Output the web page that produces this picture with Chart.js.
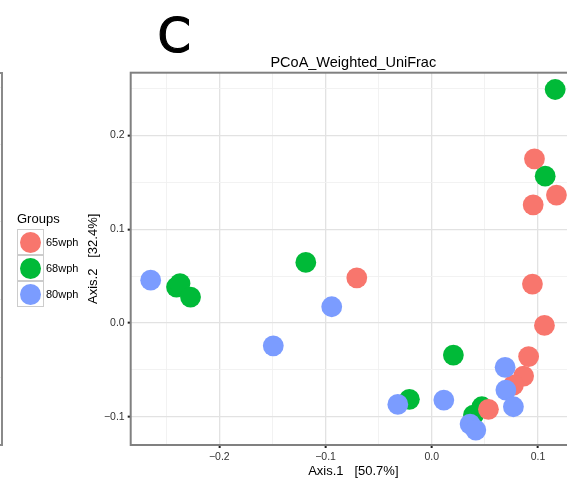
<!DOCTYPE html>
<html>
<head>
<meta charset="utf-8">
<script src="https://cdn.jsdelivr.net/npm/chart.js@4/dist/chart.umd.min.js"></script>
<style>
  html, body { margin: 0; padding: 0; background: #fff; }
  body {
    width: 567px; height: 483px; overflow: hidden; position: relative;
    font-family: 'Liberation Sans', Arial, sans-serif;
  }
  #chartBox { position: absolute; left: 0; top: 0; width: 600px; height: 483px; }
  /* right edge of the neighbouring panel B */
  #prevPanel {
    position: absolute; left: -22px; top: 72px; width: 21px; height: 370px;
    border: 2px solid #8a8a8a; background: #fff;
  }
  .prev-grid { position: absolute; left: 0; right: 0; height: 1px; background: #ebebeb; }
  #legend { position: absolute; left: 17px; top: 211px; color: #000; }
  #legend .legend-title { font-size: 13px; height: 18px; line-height: 16px; }
  .legend-row { display: flex; align-items: center; height: 26px; }
  .legend-key {
    width: 27px; height: 26px; box-sizing: border-box; border: 1.5px solid #cccccc;
    display: flex; align-items: center; justify-content: center; background: #fff;
  }
  .legend-dot { width: 21px; height: 21px; border-radius: 50%; }
  .legend-label { font-size: 11px; margin-left: 2px; }
</style>
</head>
<body>
<div id="prevPanel">
  <div class="prev-grid" style="top:13px"></div>
  <div class="prev-grid" style="top:70px"></div>
  <div class="prev-grid" style="top:147px"></div>
  <div class="prev-grid" style="top:225px"></div>
  <div class="prev-grid" style="top:303px"></div>
</div>
<div id="chartBox"><canvas id="pcoaChart" width="600" height="483"></canvas></div>
<div id="legend"></div>

<script>
const groups = ['65wph', '68wph', '80wph'];
const groupColors = ['#F8766D', '#00BA38', '#7B9CFF'];

// Axis.1 / Axis.2 coordinates per group
const axis1_65wph = [0.0966, 0.1173, 0.0954, -0.0706, 0.0947, 0.1060, 0.0911, 0.0864, 0.0768, 0.0533];
const axis2_65wph = [0.1752, 0.1365, 0.1261, 0.0483, 0.0416, -0.0025, -0.0357, -0.0565, -0.0661, -0.0920];

const axis1_68wph = [0.1161, 0.1067, -0.2403, -0.2370, -0.2271, -0.1186, 0.0203, -0.0211, 0.0471, 0.0392];
const axis2_68wph = [0.2491, 0.1567, 0.0384, 0.0421, 0.0277, 0.0647, -0.0341, -0.0813, -0.0892, -0.0981];

const axis1_80wph = [-0.2646, -0.0942, -0.1492, 0.0690, 0.0697, 0.0768, -0.0320, 0.0113, 0.0360, 0.0414];
const axis2_80wph = [0.0458, 0.0174, -0.0242, -0.0472, -0.0714, -0.0892, -0.0867, -0.0821, -0.1077, -0.1141];

const xTicks = [-0.25, -0.2, -0.15, -0.1, -0.05, 0, 0.05, 0.1];
const yTicks = [-0.1, -0.05, 0, 0.05, 0.1, 0.15, 0.2, 0.25];
const xMin = -0.2834, xMax = 0.1357;
const yMin = -0.1300, yMax = 0.2670;

const axis1 = [axis1_65wph, axis1_68wph, axis1_80wph];
const axis2 = [axis2_65wph, axis2_68wph, axis2_80wph];
const drawOrder = [1, 2, 0]; // 80wph on top, then 65wph, 68wph underneath

function isMajor(v) {
  return Math.abs(v * 10 - Math.round(v * 10)) < 1e-6;
}

function formatTick(v) {
  return (v < -1e-9 ? '\u2212' : '') + Math.abs(v).toFixed(1);
}

function gridColor(ctx) {
  if (!ctx.tick) return 'rgba(0,0,0,0)';
  return isMajor(ctx.tick.value) ? '#e2e2e2' : '#f1f1f1';
}

function gridWidth(ctx) {
  if (!ctx.tick) return 0;
  return isMajor(ctx.tick.value) ? 1.3 : 0.9;
}

function tickMarkColor(ctx) {
  if (!ctx.tick) return 'rgba(0,0,0,0)';
  return isMajor(ctx.tick.value) ? '#222' : 'rgba(0,0,0,0)';
}

function renderLegend() {
  const box = document.getElementById('legend');
  box.innerHTML = '<div class="legend-title">Groups</div>';
  groups.forEach((g, i) => {
    const row = document.createElement('div');
    row.className = 'legend-row';
    row.innerHTML = `
      <div class="legend-key"><div class="legend-dot" style="background:${groupColors[i]}"></div></div>
      <span class="legend-label">${g}</span>
    `;
    box.appendChild(row);
  });
}

const panelBorder = {
  id: 'panelBorder',
  afterDatasetsDraw(chart) {
    const { ctx, chartArea } = chart;
    ctx.save();
    ctx.strokeStyle = '#808080';
    ctx.lineWidth = 2;
    ctx.strokeRect(chartArea.left, chartArea.top, chartArea.right - chartArea.left, chartArea.bottom - chartArea.top);
    ctx.restore();
  }
};

const figureText = {
  id: 'figureText',
  afterDraw(chart) {
    const ctx = chart.ctx;
    ctx.save();
    ctx.fillStyle = '#000';
    ctx.strokeStyle = '#000';
    ctx.lineWidth = 1.2;
    ctx.textBaseline = 'alphabetic';
    ctx.textAlign = 'left';
    // panel letter, a touch heavier than the regular weight
    ctx.font = "48px 'DejaVu Sans', sans-serif";
    ctx.fillText('C', 157.5, 52);
    ctx.strokeText('C', 157.5, 52);
    ctx.textAlign = 'center';
    ctx.font = "14.5px 'Liberation Sans', Arial, sans-serif";
    ctx.fillText('PCoA_Weighted_UniFrac', 353.3, 66.5);
    ctx.restore();
  }
};

function renderChart() {
  const ctx = document.getElementById('pcoaChart').getContext('2d');
  Chart.defaults.font.family = "'Liberation Sans', Arial, sans-serif";

  new Chart(ctx, {
    type: 'scatter',
    data: {
      datasets: groups.map((g, i) => ({
        label: g,
        data: axis1[i].map((x, j) => ({ x: x, y: axis2[i][j] })),
        backgroundColor: groupColors[i],
        borderWidth: 0,
        pointRadius: 10.4,
        pointHoverRadius: 10.4,
        order: drawOrder[i],
        clip: false
      }))
    },
    options: {
      responsive: false,
      animation: false,
      devicePixelRatio: 1,
      layout: { padding: { top: 72.7, left: 0, right: 24, bottom: 0 } },
      plugins: {
        legend: { display: false },
        tooltip: { enabled: false }
      },
      scales: {
        x: {
          type: 'linear',
          min: xMin,
          max: xMax,
          afterBuildTicks: s => { s.ticks = xTicks.map(v => ({ value: v })); },
          afterFit: s => { s.height = 38; },
          border: { display: false },
          grid: {
            color: gridColor,
            lineWidth: gridWidth,
            tickColor: tickMarkColor,
            tickWidth: 2,
            tickLength: 3
          },
          ticks: {
            autoSkip: false,
            maxRotation: 0,
            padding: 3,
            color: '#333',
            font: { size: 10.5 },
            callback: v => isMajor(v) ? formatTick(v) : ''
          },
          title: {
            display: true,
            text: 'Axis.1   [50.7%]',
            color: '#000',
            font: { size: 13 },
            padding: { top: 0, bottom: 3.5 }
          }
        },
        y: {
          type: 'linear',
          min: yMin,
          max: yMax,
          afterBuildTicks: s => { s.ticks = yTicks.map(v => ({ value: v })); },
          afterFit: s => { s.width = 130.7; },
          border: { display: false },
          grid: {
            color: gridColor,
            lineWidth: gridWidth,
            tickColor: tickMarkColor,
            tickWidth: 2,
            tickLength: 3
          },
          ticks: {
            autoSkip: false,
            padding: 3,
            color: '#333',
            font: { size: 10.5 },
            callback: v => isMajor(v) ? formatTick(v) : ''
          },
          title: {
            display: true,
            text: 'Axis.2   [32.4%]',
            color: '#000',
            font: { size: 13 },
            padding: { top: 85.9, bottom: 0 }
          }
        }
      }
    },
    plugins: [panelBorder, figureText]
  });
}

document.addEventListener('DOMContentLoaded', () => {
  renderLegend();
  renderChart();
});
</script>
</body>
</html>
